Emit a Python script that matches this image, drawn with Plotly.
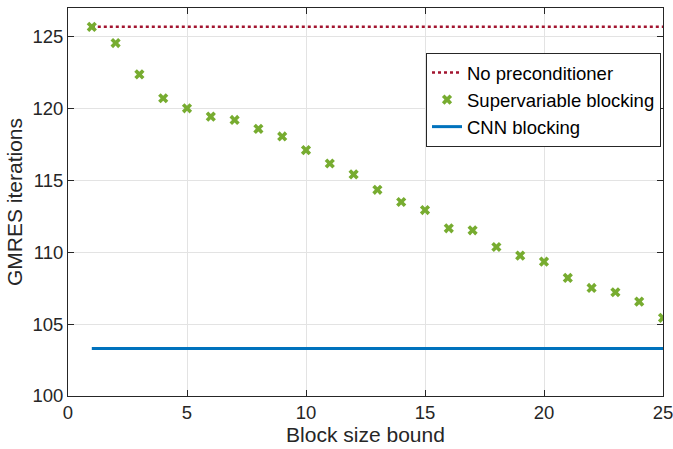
import plotly.graph_objects as go

block_sizes = list(range(1, 26))
supervariable = [125.69, 124.56, 122.38, 120.72, 120.02, 119.44, 119.21, 118.59, 118.06, 117.11,
                 116.18, 115.42, 114.35, 113.50, 112.94, 111.67, 111.53, 110.37, 109.77, 109.35,
                 108.22, 107.52, 107.22, 106.57, 105.44]
no_precond = 125.69
cnn_blocking = 103.31
x_ticks = [0, 5, 10, 15, 20, 25]
y_ticks = [100, 105, 110, 115, 120, 125]

FONT = "Liberation Sans, Arial, Helvetica, sans-serif"
AXC = "#262626"

fig = go.Figure()
fig.add_trace(go.Scatter(
    x=[block_sizes[0], block_sizes[-1]], y=[no_precond, no_precond],
    mode="lines", name="No preconditioner",
    line=dict(color="#A2142F", width=2.5, dash="dot")))
fig.add_trace(go.Scatter(
    x=block_sizes, y=supervariable, mode="markers", name="Supervariable blocking",
    marker=dict(symbol="x", size=9, color="#77AC30", line=dict(width=0))))
fig.add_trace(go.Scatter(
    x=[block_sizes[0], block_sizes[-1]], y=[cnn_blocking, cnn_blocking],
    mode="lines", name="CNN blocking",
    line=dict(color="#0072BD", width=3)))

axis_common = dict(
    showline=True, linecolor=AXC, linewidth=1, mirror="ticks",
    ticks="inside", ticklen=6, tickcolor=AXC, tickwidth=1,
    showgrid=True, gridcolor="#e3e3e3", gridwidth=1, zeroline=False,
    tickfont=dict(family=FONT, size=18.5, color=AXC), automargin=False,
    ticklabeloverflow="allow",
)

fig.update_layout(
    width=673, height=449,
    margin=dict(l=68, r=10, t=8, b=53),
    paper_bgcolor="white", plot_bgcolor="white",
    font=dict(family=FONT, size=19, color=AXC),
    showlegend=True,
    legend=dict(
        x=0.6017, y=0.884, xanchor="left", yanchor="top",
        bgcolor="white", bordercolor=AXC, borderwidth=1,
        font=dict(family=FONT, size=18.5, color="black"),
        itemwidth=30, tracegroupgap=0,
    ),
    xaxis=dict(range=[0, 25], tickvals=x_ticks,
               title=dict(text="Block size bound", font=dict(family=FONT, size=21, color=AXC), standoff=2),
               **axis_common),
    yaxis=dict(range=[100, 127], tickvals=y_ticks,
               title=dict(text="GMRES iterations", font=dict(family=FONT, size=21, color=AXC), standoff=4),
               **axis_common),
)

fig.write_html("out.html", config={"displayModeBar": False},
               post_script="document.body.style.margin='0';document.body.style.overflow='hidden';")
